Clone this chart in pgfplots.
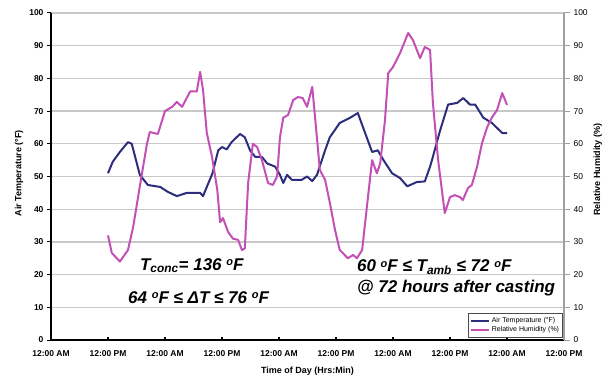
\documentclass[border=0pt]{standalone}
\usepackage{pgfplots}
\pgfplotsset{compat=1.18}
\usepackage{fontspec}
\setmainfont{Liberation Sans}
\definecolor{tblue}{RGB}{45,45,125}
\definecolor{rhmag}{RGB}{195,80,180}
\definecolor{gridgray}{RGB}{200,200,200}
\newcommand{\dego}{\raisebox{0.55ex}{\fontsize{11}{11}\selectfont o}}
\pgfplotstableread{
h v
12 51
13 54.5
14.5 57.5
16.2 60.5
17 60
18.7 50.5
20.4 47.4
23 46.8
24.6 45.3
26.5 44
28.6 45
31.4 45
32 44
34 51
35.2 58
36 59
37 58.3
38 60.5
39.8 63
40.8 62
41.9 58
43 56
44.4 56
45.5 54
47.2 53
48.2 50.5
48.9 48
49.7 50.5
50.7 49
52.8 49
53.9 50
55 48.6
56 50.5
57.7 58
58.7 62
60.8 66.4
63 68
64.6 69.4
65.7 65
67.6 57.5
68.8 58
70 55
71.8 51
73.5 49.5
75 47
77 48.3
78.7 48.5
79.8 53
80.2 55
81.9 64
83.6 72
85.5 72.5
86.8 74
88.2 72
89.3 72
91 68
92.8 66.4
95 63.3
96 63.3
}\airtemp
\pgfplotstableread{
h v
12 32
12.8 26.6
14.5 24
16.2 27.5
17.3 34.6
18.7 47
20.2 60
20.8 63.6
22.5 63
24 70
25.5 71.3
26.5 72.8
27.6 71.3
29.3 76
30.7 76
31.4 82
32 76.5
32.8 63.3
33.9 56
35 46
35.6 36
36.2 37.3
37.3 33
38.3 31
39.4 30.6
40.2 27.5
40.8 28
41.5 48
42.5 60
43.4 59
44.4 55
45.7 48
46.7 47.4
47.6 50
48.2 62
48.9 68
49.9 68.8
51 73.4
52 74.3
53 74
53.9 71.3
55 77.4
55.6 68
56.6 52
57.7 49
58.7 42
59.8 33.6
60.8 27.5
62.5 25
63.6 26
64.4 25
65.5 27.5
66.5 40.7
67.6 55
68.6 51
69.3 54
70.3 67
71 81.6
72 83.5
73.5 87.8
75.2 93.9
76.2 91.7
77.7 86.2
78.7 89.6
79.8 88.7
80.4 72.5
81.5 55
82.9 38.8
84 43.7
85 44.3
86.1 43.7
86.7 42.8
87.8 46.5
88.6 47.4
89.7 53
90.7 60
91.8 65
92.8 68
93.9 70.3
95 75.5
96 71.9
}\rhum
\begin{document}
\begin{tikzpicture}
\useasboundingbox (-51pt,-40pt) rectangle (553pt,340pt);
\begin{axis}[
  at={(0pt,0pt)}, anchor=south west,
  scale only axis, width=513pt, height=327pt,
  xmin=0, xmax=108, ymin=0, ymax=100,
  axis y line*=left, axis x line*=bottom,
  axis line style={-, black, line width=1.6pt},
  xtick={0,12,...,108},
  xticklabels={12:00 AM,12:00 PM,12:00 AM,12:00 PM,12:00 AM,12:00 PM,12:00 AM,12:00 PM,12:00 AM,12:00 PM},
  ytick={0,10,...,100},
  ymajorgrids, grid style={gridgray, line width=1.3pt},
  tick align=outside, major tick length=4pt,
  ytick style={black, line width=1pt},
  xtick style={black, line width=1.2pt, yshift=3.5pt},
  /pgf/number format/assume math mode=true,
  tick label style={font=\bfseries\fontsize{8.5}{10}\selectfont},
  xticklabel style={yshift=-3.5pt},
  xlabel={Time of Day (Hrs:Min)},
  xlabel style={font=\bfseries\fontsize{9}{11}\selectfont, at={(axis description cs:0.5,-0.095)}, anchor=center},
  ylabel={Air Temperature (°F)},
  ylabel style={font=\bfseries\fontsize{9}{11}\selectfont, at={(axis description cs:-0.0624,0.51)}, anchor=center, rotate=0},
  clip=false,
]
\addplot[tblue, line width=2pt, line join=round, no markers] table[x=h,y=v] {\airtemp};
\node[anchor=base west, font=\bfseries\itshape\fontsize{17}{20}\selectfont, inner sep=0pt] at (axis cs:18.7,21.4) {T\textsubscript{conc}= 136 \dego F};
\node[anchor=base west, font=\bfseries\itshape\fontsize{17}{20}\selectfont, inner sep=0pt] at (axis cs:16.2,11.3) {64 \dego F ≤ ΔT ≤ 76 \dego F};
\node[anchor=base west, font=\bfseries\itshape\fontsize{17}{20}\selectfont, inner sep=0pt] at (axis cs:64.4,20.8) {60 \dego F ≤ T\textsubscript{amb} ≤ 72 \dego F};
\node[anchor=base west, font=\bfseries\itshape\fontsize{17}{20}\selectfont, inner sep=0pt] at (axis cs:64.4,14.4) {@ 72 hours after casting};
\end{axis}
\begin{axis}[
  at={(0pt,0pt)}, anchor=south west,
  scale only axis, width=513pt, height=327pt,
  xmin=0, xmax=108, ymin=0, ymax=100,
  axis y line*=right, axis x line=none,
  axis line style={-, gray!75, line width=1.3pt},
  ytick={0,10,...,100},
  tick align=outside, major tick length=6pt,
  ytick style={gray!75, line width=1pt},
  /pgf/number format/assume math mode=true,
  yticklabel style={font=\fontsize{8.5}{10}\selectfont},
  ylabel={Relative Humidity (\%)},
  ylabel style={font=\bfseries\fontsize{9}{11}\selectfont, at={(axis description cs:1.066,0.52)}, anchor=center, rotate=0},
  legend style={at={(axis description cs:0.998,0.008)}, anchor=south east, draw=black!70, line width=0.8pt, font=\fontsize{7}{8}\selectfont, inner sep=1.5pt, row sep=-1pt, cells={anchor=west}},
  legend image code/.code={\draw[#1, line width=2pt] (0pt,0pt) -- (18pt,0pt);},
]
\addlegendimage{tblue}
\addlegendentry{Air Temperature (°F)}
\addplot[rhmag, line width=2pt, line join=round, no markers] table[x=h,y=v] {\rhum};
\addlegendentry{Relative Humidity (\%)}
\end{axis}
\end{tikzpicture}
\end{document}
